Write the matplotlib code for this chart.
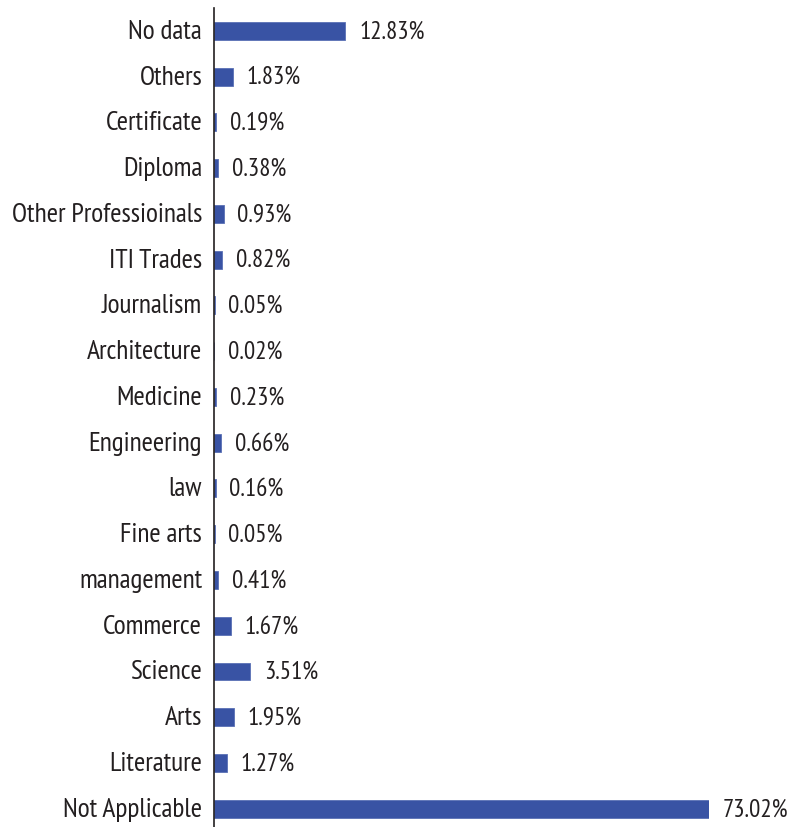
import matplotlib.pyplot as plt
from matplotlib.transforms import ScaledTranslation

# Daten (von unten nach oben)
categories = ["Not Applicable", "Literature", "Arts", "Science", "Commerce",
              "management", "Fine arts", "law", "Engineering", "Medicine",
              "Architecture", "Journalism", "ITI Trades", "Other Professioinals",
              "Diploma", "Certificate", "Others", "No data"]
values = [73.02, 1.27, 1.95, 3.51, 1.67, 0.41, 0.05, 0.16, 0.66, 0.23,
          0.02, 0.05, 0.82, 0.93, 0.38, 0.19, 1.83, 12.83]

plt.rcParams["font.family"] = ["PT Sans Narrow", "DejaVu Sans"]

bar_color = "#3953a4"
text_color = "#231f20"
x_max = 48.4  # längster Balken wird am Rand abgeschnitten

fig = plt.figure(figsize=(7.88, 8.28), dpi=100)
ax = fig.add_axes([214 / 788, 0, (709 - 214) / 788, 1 - 9 / 828])

y = range(len(categories))
ax.barh(y, values, height=0.39, color=bar_color, edgecolor="#5a70b5", linewidth=0.6)

for yi, v in zip(y, values):
    ax.text(min(v, x_max) + 1.35, yi, f"{v:.2f}%", va="center", ha="left",
            fontsize=18, color=text_color, clip_on=False)

ax.set_xlim(0, x_max)
ax.set_ylim(-0.4, len(categories) - 0.5)
ax.set_yticks(list(y))
ax.set_yticklabels(categories, fontsize=19.8, color=text_color)
ax.tick_params(axis="y", length=0, pad=8.5)
ax.set_xticks([])

# Kategorien leicht nach oben schieben
shift = ScaledTranslation(0, 2.5 / 100, fig.dpi_scale_trans)
for lab in ax.get_yticklabels():
    lab.set_transform(lab.get_transform() + shift)

for side in ["top", "right", "bottom"]:
    ax.spines[side].set_visible(False)
ax.spines["left"].set_color("#231f20")
ax.spines["left"].set_linewidth(1.2)

fig.savefig("out.png", dpi=100)
